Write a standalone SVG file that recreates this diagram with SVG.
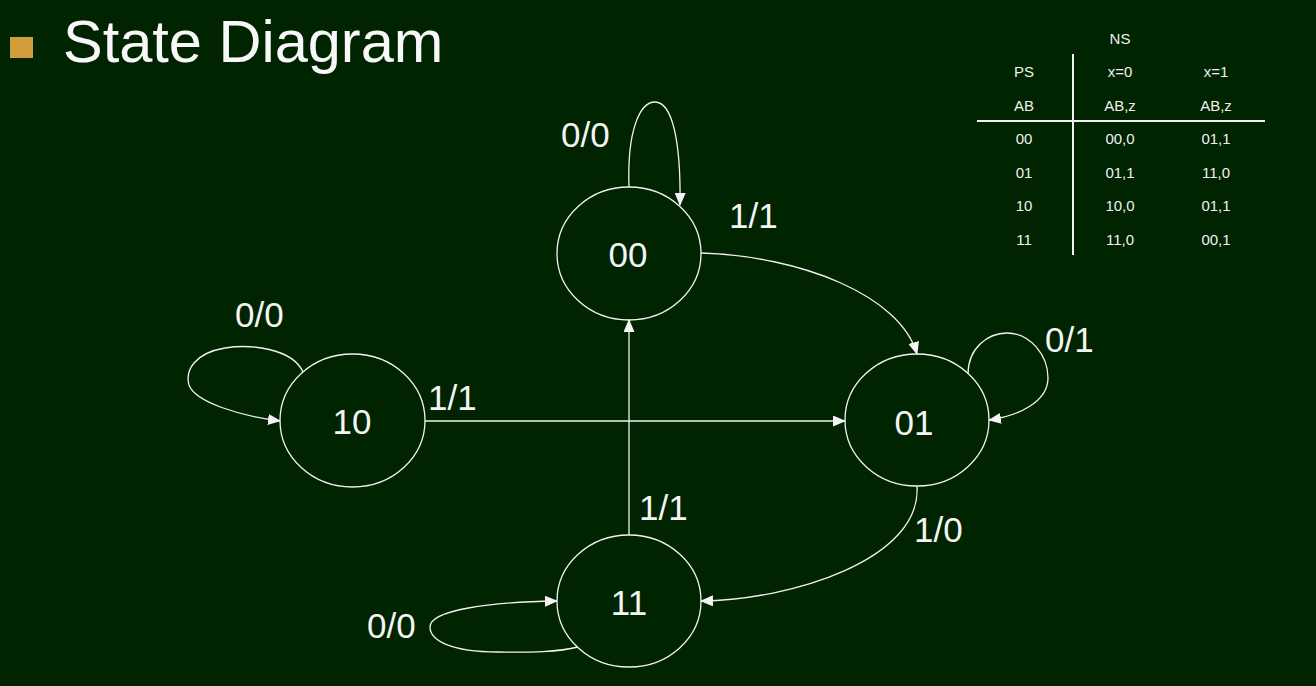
<svg xmlns="http://www.w3.org/2000/svg" width="1316" height="686" viewBox="0 0 1316 686">
<style>
.bg{fill:#002300}
.node{fill:none;stroke:#f2f2f2;stroke-width:1.3}
.edge{fill:none;stroke:#f2f2f2;stroke-width:1.3}
.lbl{font-family:"Liberation Sans",Arial,sans-serif;font-size:35px;fill:#f4f4f4}
.nl{font-family:"Liberation Sans",Arial,sans-serif;font-size:35px;fill:#f4f4f4;text-anchor:middle}
.tb{font-family:"Liberation Sans",Arial,sans-serif;font-size:15px;fill:#f0f0f0;text-anchor:middle}
.tl{stroke:#f0f0f0;stroke-width:2}
</style>
<defs>
<marker id="ah" markerUnits="userSpaceOnUse" markerWidth="13" markerHeight="11" refX="12" refY="5.5" orient="auto" viewBox="0 0 13 11">
<path d="M0,0 L13,5.5 L0,11 Z" fill="#f4f4f4"/>
</marker>
</defs>
<rect class="bg" x="0" y="0" width="1316" height="686"/>
<g id="title">
<rect x="10" y="37" width="23" height="21" fill="#d29e3b"/>
<text x="63" y="62" font-family="Liberation Sans,Arial,sans-serif" font-size="59.5" fill="#f8f8f8">State Diagram</text>
</g>
<g id="table">
<text class="tb" x="1120" y="44">NS</text>
<text class="tb" x="1024" y="77">PS</text>
<text class="tb" x="1120" y="77">x=0</text>
<text class="tb" x="1216" y="77">x=1</text>
<text class="tb" x="1024" y="111">AB</text>
<text class="tb" x="1120" y="111">AB,z</text>
<text class="tb" x="1216" y="111">AB,z</text>
<text class="tb" x="1024" y="144">00</text>
<text class="tb" x="1120" y="144">00,0</text>
<text class="tb" x="1216" y="144">01,1</text>
<text class="tb" x="1024" y="178">01</text>
<text class="tb" x="1120" y="178">01,1</text>
<text class="tb" x="1216" y="178">11,0</text>
<text class="tb" x="1024" y="211">10</text>
<text class="tb" x="1120" y="211">10,0</text>
<text class="tb" x="1216" y="211">01,1</text>
<text class="tb" x="1024" y="245">11</text>
<text class="tb" x="1120" y="245">11,0</text>
<text class="tb" x="1216" y="245">00,1</text>
<line class="tl" x1="1073" y1="54" x2="1073" y2="255"/>
<line class="tl" x1="977" y1="121" x2="1265" y2="121"/>
</g>
<g id="connectors">
<path class="edge" marker-end="url(#ah)" d="M629,187 C627,130 640,102 655,102 C672,102 681,140 680,205"/>
<path class="edge" marker-end="url(#ah)" d="M701,253 C800,256 900,295 917,354"/>
<path class="edge" marker-end="url(#ah)" d="M303,372 C292,348 250,344 225,348 C195,353 185,370 189,385 C195,402 240,416 280,421"/>
<path class="edge" marker-end="url(#ah)" d="M425,421 L845,421"/>
<path class="edge" marker-end="url(#ah)" d="M968,374 C968,348 988,333 1007,333 C1030,333 1048,355 1048,378 C1048,402 1018,416 989,420"/>
<path class="edge" marker-end="url(#ah)" d="M917,486 C922,560 790,600 701,601"/>
<path class="edge" marker-end="url(#ah)" d="M629,535 L629,320"/>
<path class="edge" marker-end="url(#ah)" d="M578,647 C555,653 520,652 498,652 C450,652 430,640 430,627 C430,610 490,602 557,601"/>
<text class="lbl" x="561" y="147">0/0</text>
<text class="lbl" x="729" y="228">1/1</text>
<text class="lbl" x="235" y="327">0/0</text>
<text class="lbl" x="428" y="410">1/1</text>
<text class="lbl" x="1045" y="352">0/1</text>
<text class="lbl" x="639" y="520">1/1</text>
<text class="lbl" x="914" y="542">1/0</text>
<text class="lbl" x="367" y="638">0/0</text>
</g>
<g id="s00"><ellipse class="node" cx="629" cy="253.5" rx="72" ry="66.5"/><text class="nl" x="628" y="267">00</text></g>
<g id="s10"><ellipse class="node" cx="352.5" cy="420.5" rx="72.5" ry="66.5"/><text class="nl" x="352" y="434">10</text></g>
<g id="s01"><ellipse class="node" cx="917" cy="420" rx="72" ry="66"/><text class="nl" x="914" y="435">01</text></g>
<g id="s11"><ellipse class="node" cx="629" cy="601" rx="72" ry="66"/><text class="nl" x="629" y="615">11</text></g>
</svg>
